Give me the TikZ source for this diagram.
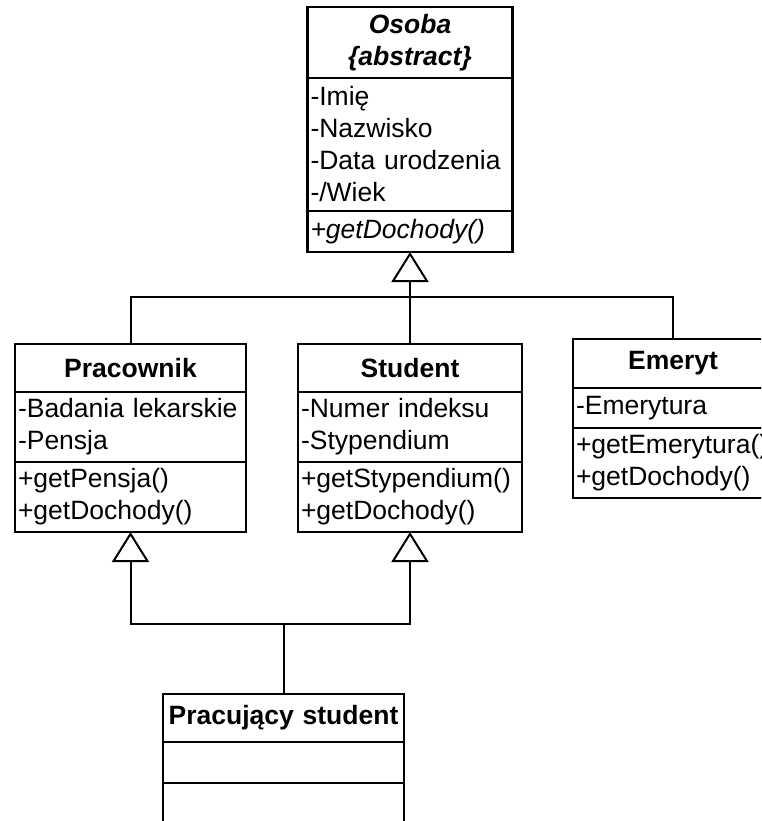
\documentclass[tikz,border=0pt]{standalone}
\usepackage{fontspec}
\setmainfont{Liberation Sans}
\usetikzlibrary{positioning}
\usetikzlibrary{arrows.meta}

\tikzset{
  box/.style={draw, line width=2.5pt, outer sep=0pt, inner xsep=3pt, inner ysep=2pt, font=\fontsize{26.5}{32}\selectfont},
  head/.style={box, align=center, font=\fontsize{26.5}{32}\selectfont\bfseries},
  part/.style={box, align=left},
  link/.style={line width=2pt},
  gen/.style={link, -{Triangle[open, length=30pt, width=37pt]}}
}

\begin{document}
\begin{tikzpicture}[x=1pt, y=-1pt]

 \useasboundingbox (0,0) rectangle (761,821);
 \clip (0,0) rectangle (761,821);

 %Osoba
 \node[head, anchor=north west, text width=199, minimum height=71, font=\fontsize{26.5}{32}\selectfont\bfseries\itshape] (osoba) at (307.5,7) {Osoba\\\{abstract\}};
 \node[part, below=0pt of osoba, text width=199, minimum height=133] (osobaAttr) {-Imię\\-Nazwisko\\-Data urodzenia\\-/Wiek};
 \node[part, below=0pt of osobaAttr, text width=199, minimum height=41, font=\fontsize{26.5}{32}\selectfont\itshape] (osobaOps) {+getDochody()};

 %Pracownik
 \node[head, anchor=north west, text width=225, minimum height=48] (pracownik) at (15,344) {Pracownik};
 \node[part, below=0pt of pracownik, text width=225, minimum height=70] (pracownikAttr) {-Badania lekarskie\\-Pensja};
 \node[part, below=0pt of pracownikAttr, text width=225, minimum height=70] (pracownikOps) {+getPensja()\\+getDochody()};

 %Student
 \node[head, anchor=north west, text width=218, minimum height=48] (student) at (298,344) {Student};
 \node[part, below=0pt of student, text width=218, minimum height=70] (studentAttr) {-Numer indeksu\\-Stypendium};
 \node[part, below=0pt of studentAttr, text width=218, minimum height=70] (studentOps) {+getStypendium()\\+getDochody()};

 %Emeryt
 \node[head, anchor=north west, text width=194, minimum height=49] (emeryt) at (573,339) {Emeryt};
 \node[part, below=0pt of emeryt, text width=194, minimum height=40] (emerytAttr) {-Emerytura};
 \node[part, below=0pt of emerytAttr, text width=194, minimum height=70] (emerytOps) {+getEmerytura()\\+getDochody()};

 %Pracujacy student
 \node[head, anchor=north west, text width=235, minimum height=48] (pracStud) at (163,694) {Pracujący student};
 \node[part, below=0pt of pracStud, text width=235, minimum height=41] (pracStudAttr) {};
 \node[part, below=0pt of pracStudAttr, text width=235, minimum height=60] (pracStudOps) {};

 %inheritance
 \draw[link] (pracownik.north) -- ++(0,-47) -| (emeryt.north);
 \draw[gen] (student.north) -- (osobaOps.south);

 \draw[gen] (pracStud.north) -- ++(0,-70) -| (pracownikOps.south);
 \draw[gen] (pracStud.north) -- ++(0,-70) -| (studentOps.south);

\end{tikzpicture}
\end{document}
